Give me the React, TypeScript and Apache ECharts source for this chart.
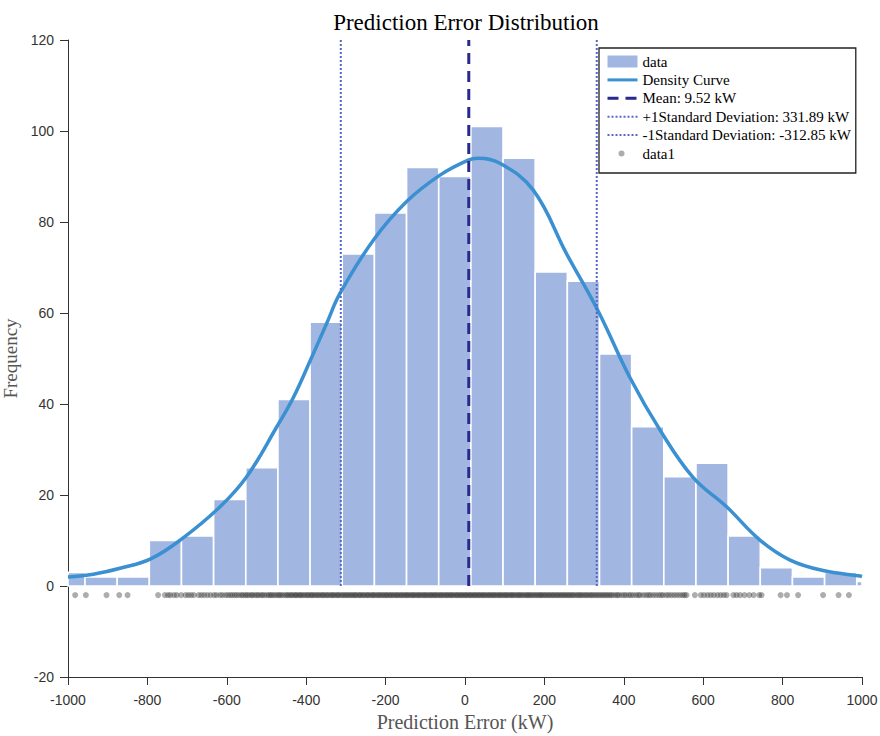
import React, { useEffect, useRef } from "react";
import * as echarts from "echarts";

// ---------- data ----------
const binEdges = [
  -1038.2, -957.2, -876.2, -795.2, -714.2, -633.2, -552.2, -471.2, -390.2, -309.2,
  -228.2, -147.2, -66.2, 14.8, 95.8, 176.8, 257.8, 338.8, 419.8, 500.8, 581.8,
  662.8, 743.8, 824.8, 905.8, 986.8, 1067.8,
];
const binCounts = [
  3, 2, 2, 10, 11, 19, 26, 41, 58, 73, 82, 92, 90, 101, 94, 69, 67, 51, 35, 24, 27,
  11, 4, 2, 3, 1,
];

const densityX = [
  -1000, -936, -869, -793, -714, -617, -550, -474, -432, -390, -348, -315, -231,
  -147, -63, 8, 33, 88, 172, 256, 335, 416, 491, 575, 659, 743, 819, 902, 995, 1000,
];
const densityY = [
  2.0, 2.6, 3.9, 5.9, 10.3, 17.4, 24.0, 35.0, 41.5, 49.5, 57.8, 64.3, 76.0, 84.5,
  90.3, 93.6, 94.0, 92.9, 87.0, 73.0, 60.5, 45.7, 34.3, 23.8, 17.4, 10.1, 5.7, 3.4,
  2.2, 2.1,
];

const meanValue = 9.52;
const plusStd = 331.89;
const minusStd = -312.85;

const rugY = -2;
const rugX = [
  -982, -955, -903, -871, -850,
  -773, -756, -748, -742, -733, -726, -715, -704, -697, -690, -683, -671, -664,
  -657, -649, -641, -632, -626, -617, -611, -603, -597, -591, -586, -580, -575, -569,
  -563, -559, -553, -549, -544, -538, -535, -529, -524, -520, -514, -510, -505,
  -499, -494, -490, -486, -481, -476, -471, -467, -463, -458, -452, -448, -444,
  -439, -436,
  -431, -427, -424, -419, -415, -412, -407, -403, -398, -395, -390, -386, -383,
  -378, -374, -370, -366, -361, -358, -354, -349, -346, -341, -337, -333, -330,
  -325, -321, -318, -313, -309, -305, -301, -297, -293, -289, -285, -281, -277,
  -274, -269, -265, -262, -257, -254, -249, -245, -242, -237, -233, -230, -226,
  -221, -218, -214, -210, -206, -202, -198, -195, -190, -187, -183, -179, -175,
  -171, -168, -163, -160, -156, -152, -148, -145, -141, -137, -133, -130, -126,
  -122, -118, -115, -111, -107, -103, -100, -96, -92, -88, -85, -81, -77, -74,
  -70, -66, -62, -59, -55, -51, -47, -44, -40, -36, -33, -29, -25, -21, -18, -14,
  -10, -7, -3, 1, 4, 8, 12, 15, 19, 23, 26, 30, 34, 37, 41, 45, 48, 52, 56, 60,
  63, 67, 71, 74, 78, 82, 86, 89, 93, 97, 101, 104, 108, 112, 116, 119, 123, 127,
  131, 135, 138, 142, 146, 150, 154, 158, 161, 165, 169, 173, 177, 181, 185, 189,
  192, 196, 200, 204, 208, 212, 216, 220, 224, 228, 232, 236, 240, 244, 248, 252,
  256, 260, 264, 268, 272, 276, 281, 285, 289, 293, 297, 302, 306, 310, 315, 319,
  323, 328, 332, 337, 341, 346, 350, 355, 359, 364,
  368, 373, 379, 384, 388, 395, 401, 406, 413, 418, 424, 431, 437, 441, 449, 456,
  462, 467, 474, 481, 488, 494, 499, 507, 513, 520, 527, 534, 541, 548, 553, 558,
  579, 594, 602, 611, 619, 627, 636, 644, 652, 659, 676, 684, 693, 704, 716, 727,
  741, 747, 795, 811, 839, 902, 941, 967,
];

// ---------- styles ----------
const HIST_COLOR = "#a1b7e1";
const CURVE_COLOR = "#3a90d1";
const MEAN_COLOR = "#28298a";
const STD_COLOR = "#5668c6";
const RUG_COLOR = "rgba(50,50,50,0.5)";
const AXIS_COLOR = "#333333";
const SERIF = "'Liberation Serif', 'Times New Roman', serif";
const SANS = "'Liberation Sans', Arial, sans-serif";
const HIDE_SYMBOL = { color: "rgba(0,0,0,0)", borderWidth: 0, opacity: 0 };

export default function App() {
  const ref = useRef<HTMLDivElement>(null);

  useEffect(() => {
    if (!ref.current) return;
    const chart = echarts.init(ref.current, undefined, { renderer: "svg" });

    const histData = binCounts.map((c, i) => [binEdges[i], binEdges[i + 1], c]);
    const densityData = densityX.map((x, i) => [x, densityY[i]]);
    const rugData = rugX.map((x) => [x, rugY]);

    const option: any = {
      animation: false,
      backgroundColor: "#ffffff",
      title: {
        text: "Prediction Error Distribution",
        left: 461,
        top: 6,
        textAlign: "center",
        textStyle: {
          fontFamily: SERIF,
          fontSize: 23,
          fontWeight: "normal",
          color: "#000",
        },
      },
      grid: { left: 68, right: 18, top: 40, bottom: 59, outerBoundsMode: "none", containLabel: false },
      legend: {
        orient: "vertical",
        left: 599,
        top: 48,
        padding: [6, 5, 12, 7],
        itemWidth: 30,
        itemHeight: 12,
        itemGap: 3.4,
        backgroundColor: "#fff",
        borderColor: "#222",
        borderWidth: 1.3,
        selectedMode: false,
        textStyle: { fontFamily: SERIF, fontSize: 15, color: "#000" },
        data: [
          { name: "data", icon: "rect" },
          { name: "Density Curve", lineStyle: { width: 3 }, itemStyle: HIDE_SYMBOL },
          { name: "Mean: 9.52 kW", lineStyle: { width: 3 }, itemStyle: HIDE_SYMBOL },
          { name: "+1Standard Deviation: 331.89 kW", lineStyle: { width: 2 }, itemStyle: HIDE_SYMBOL },
          { name: "-1Standard Deviation: -312.85 kW", lineStyle: { width: 2 }, itemStyle: HIDE_SYMBOL },
          {
            name: "data1",
            icon: "path://M0,0M30,12M11,6a3,3,0,1,0,6,0a3,3,0,1,0,-6,0z",
          },
        ],
      },
      xAxis: {
        type: "value",
        min: -1000,
        max: 1000,
        interval: 200,
        name: "Prediction Error (kW)",
        nameLocation: "middle",
        nameGap: 30,
        nameTextStyle: { fontFamily: SERIF, fontSize: 20, color: "#555" },
        axisLine: { show: true, onZero: false, lineStyle: { color: AXIS_COLOR, width: 1 } },
        axisTick: { show: true, inside: false, length: 8, lineStyle: { color: AXIS_COLOR } },
        axisLabel: {
          fontFamily: SANS,
          fontSize: 14,
          color: "#333",
          margin: 16,
          formatter: (v: number) => String(v),
        },
        splitLine: { show: false },
      },
      yAxis: {
        type: "value",
        min: -20,
        max: 120,
        interval: 20,
        name: "Frequency",
        nameLocation: "middle",
        nameGap: 42,
        nameTextStyle: { fontFamily: SERIF, fontSize: 19, color: "#555" },
        axisLine: { show: true, onZero: false, lineStyle: { color: AXIS_COLOR, width: 1 } },
        axisTick: { show: true, inside: false, length: 8, lineStyle: { color: AXIS_COLOR } },
        axisLabel: {
          fontFamily: SANS,
          fontSize: 14,
          color: "#333",
          margin: 14,
          formatter: (v: number) => String(v),
        },
        splitLine: { show: false },
      },
      series: [
        {
          name: "data",
          type: "custom",
          z: 1,
          itemStyle: { color: HIST_COLOR },
          encode: { x: [0, 1], y: 2 },
          data: histData,
          renderItem: (params: any, api: any) => {
            const a = api.coord([api.value(0), api.value(2)]);
            const b = api.coord([api.value(1), 0]);
            const cs = params.coordSys;
            const shape = echarts.graphic.clipRectByRect(
              { x: a[0], y: a[1], width: b[0] - a[0], height: b[1] - a[1] },
              { x: cs.x, y: cs.y, width: cs.width, height: cs.height }
            );
            if (!shape) return null;
            return {
              type: "rect",
              shape,
              style: { fill: HIST_COLOR, stroke: "#ffffff", lineWidth: 1.6 },
            };
          },
        },
        {
          name: "Density Curve",
          type: "line",
          z: 3,
          data: densityData,
          smooth: 0.4,
          showSymbol: false,
          symbol: "none",
          lineStyle: { color: CURVE_COLOR, width: 3.5 },
          itemStyle: { color: CURVE_COLOR },
        },
        {
          name: "Mean: 9.52 kW",
          type: "line",
          z: 4,
          data: [
            [meanValue, 0],
            [meanValue, 120],
          ],
          symbol: "none",
          lineStyle: { color: MEAN_COLOR, width: 3, type: [11, 7] },
          itemStyle: { color: MEAN_COLOR },
        },
        {
          name: "+1Standard Deviation: 331.89 kW",
          type: "line",
          z: 4,
          data: [
            [plusStd, 0],
            [plusStd, 120],
          ],
          symbol: "none",
          lineStyle: { color: STD_COLOR, width: 2, type: [2, 2] },
          itemStyle: { color: STD_COLOR },
        },
        {
          name: "-1Standard Deviation: -312.85 kW",
          type: "line",
          z: 4,
          data: [
            [minusStd, 0],
            [minusStd, 120],
          ],
          symbol: "none",
          lineStyle: { color: STD_COLOR, width: 2, type: [2, 2] },
          itemStyle: { color: STD_COLOR },
        },
        {
          name: "data1",
          type: "scatter",
          z: 2,
          data: rugData,
          symbol: "circle",
          symbolSize: 6,
          itemStyle: { color: RUG_COLOR },
          silent: true,
        },
      ],
    };

    chart.setOption(option);
    return () => chart.dispose();
  }, []);

  return (
    <div
      ref={ref}
      style={{ position: "fixed", left: 0, top: 0, width: 880, height: 736, background: "#fff" }}
    />
  );
}
